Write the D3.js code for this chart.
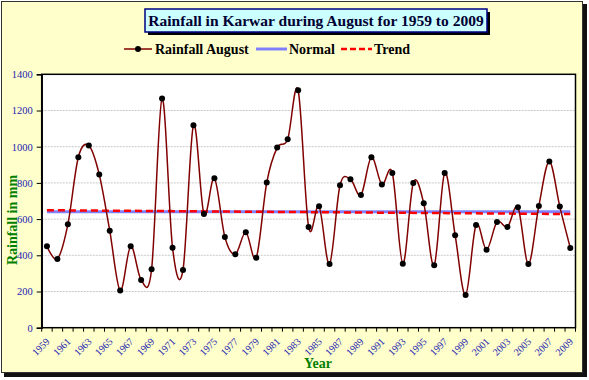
<!DOCTYPE html>
<html><head><meta charset="utf-8">
<script src="https://cdn.jsdelivr.net/npm/d3@7"></script>
<style>html,body{margin:0;padding:0;background:#fff}svg{display:block}</style>
</head><body>
<script>
const years = d3.range(1959, 2010).map(String);
const rainfall = [450,380,571,942,1006,846,536,205,450,264,323,1266,442,319,1119,628,826,501,406,527,387,802,995,1041,1312,557,671,352,787,820,733,942,791,855,354,800,688,345,855,511,181,568,431,584,557,665,352,673,918,669,441];
const normalValue = [640];
const trendValues = [649, 628];
const yTicks = [0,200,400,600,800,1000,1200,1400];
const xLabelYears = years.filter((d,i)=>i%2===0);

const W=589,H=380;
const svg=d3.select("body").append("svg").attr("width",W).attr("height",H);
const serif="'Liberation Serif','Times New Roman',serif";

svg.append("rect").attr("x",4).attr("y",4).attr("width",583).attr("height",373).attr("fill","#111");
svg.append("rect").attr("x",1.5).attr("y",1.5).attr("width",581).attr("height",371).attr("fill","#FFFFCC").attr("stroke","#333").attr("stroke-width",1);

const L=41.7,R=575.5,T=74.3,B=327.7;
const x=d3.scaleBand().domain(years).range([L,R]);
const y=d3.scaleLinear().domain([0,1400]).range([B,T]);
const cx=d=>x(d)+x.bandwidth()/2;

svg.append("rect").attr("x",L).attr("y",T).attr("width",R-L).attr("height",B-T).attr("fill","#fff");

svg.append("g").selectAll("line").data(yTicks.filter(v=>v>0&&v<1400)).join("line")
 .attr("x1",L).attr("x2",R).attr("y1",d=>y(d)).attr("y2",d=>y(d))
 .attr("stroke","#c8c8c8").attr("stroke-width",1).attr("stroke-dasharray","2,1");

svg.append("rect").attr("x",L).attr("y",T).attr("width",R-L).attr("height",B-T).attr("fill","none").attr("stroke","#000").attr("stroke-width",1.5);

const ya=svg.append("g").attr("transform",`translate(${L},0)`).call(d3.axisLeft(y).tickValues(yTicks).tickFormat(d3.format("d")).tickSize(5).tickPadding(4));
ya.select(".domain").attr("stroke","#000").attr("stroke-width",1.5);
ya.selectAll(".tick line").attr("stroke","#000");
ya.selectAll("text").attr("font-family",serif).attr("font-size",10.5).attr("fill","#2323B0");

const bounds=years.map(d=>x(d)).concat([R]);
svg.append("g").selectAll("line").data(bounds).join("line")
 .attr("x1",d=>d).attr("x2",d=>d).attr("y1",B).attr("y2",B+4).attr("stroke","#000").attr("stroke-width",1);
svg.append("g").selectAll("text").data(xLabelYears).join("text")
 .attr("transform",d=>`translate(${cx(d)+1},${B+12}) rotate(-45)`)
 .attr("text-anchor","end").attr("dy","0.35em")
 .attr("font-family",serif).attr("font-size",10).attr("fill","#2323B0").text(d=>d);

svg.append("line").attr("x1",cx(years[0])).attr("x2",cx(years[years.length-1]))
 .attr("y1",y(normalValue[0])).attr("y2",y(normalValue[0]))
 .attr("stroke","#8080FF").attr("stroke-width",3);
svg.append("line").attr("x1",cx(years[0])).attr("x2",cx(years[years.length-1]))
 .attr("y1",y(trendValues[0])).attr("y2",y(trendValues[1]))
 .attr("stroke","#FF0000").attr("stroke-width",2.5).attr("stroke-dasharray","7,4");

const line=d3.line().x((d,i)=>cx(years[i])).y(d=>y(d)).curve(d3.curveCatmullRom.alpha(0));
svg.append("path").attr("d",line(rainfall)).attr("fill","none").attr("stroke","#800000").attr("stroke-width",1.5);
svg.append("g").selectAll("circle").data(rainfall).join("circle")
 .attr("cx",(d,i)=>cx(years[i])).attr("cy",d=>y(d)).attr("r",3).attr("fill","#000");

svg.append("rect").attr("x",148).attr("y",12).attr("width",342).attr("height",23).attr("fill","#000");
svg.append("rect").attr("x",145).attr("y",9).attr("width",342).attr("height",23).attr("fill","#CCFFFF").attr("stroke","#000080").attr("stroke-width",1.5);
svg.append("text").attr("x",316).attr("y",26).attr("text-anchor","middle").attr("font-family",serif).attr("font-weight","bold").attr("font-size",15.5).attr("fill","#000033").text("Rainfall in Karwar during August for 1959 to 2009");

const lg=svg.append("g").attr("font-family",serif).attr("font-weight","bold").attr("font-size",14).attr("fill","#000");
lg.append("line").attr("x1",124).attr("x2",152).attr("y1",49).attr("y2",49).attr("stroke","#800000").attr("stroke-width",1.5);
lg.append("circle").attr("cx",138).attr("cy",49).attr("r",3).attr("fill","#000");
lg.append("text").attr("x",155).attr("y",54).text("Rainfall August");
lg.append("line").attr("x1",256).attr("x2",287).attr("y1",49).attr("y2",49).attr("stroke","#8080FF").attr("stroke-width",3);
lg.append("text").attr("x",289).attr("y",54).text("Normal");
lg.append("line").attr("x1",341).attr("x2",372).attr("y1",49).attr("y2",49).attr("stroke","#FF0000").attr("stroke-width",2.5).attr("stroke-dasharray","6,3");
lg.append("text").attr("x",374).attr("y",54).text("Trend");

svg.append("text").attr("transform","translate(17,220) rotate(-90)").attr("text-anchor","middle")
 .attr("font-family",serif).attr("font-weight","bold").attr("font-size",14).attr("fill","#008000").text("Rainfall in mm");
svg.append("text").attr("x",318).attr("y",368).attr("text-anchor","middle")
 .attr("font-family",serif).attr("font-weight","bold").attr("font-size",14).attr("fill","#008000").text("Year");
</script>
</body></html>
